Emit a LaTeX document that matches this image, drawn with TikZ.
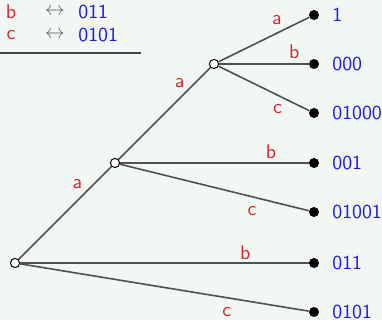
\documentclass[tikz,border=0pt]{standalone}
\usepackage{fontspec}
\definecolor{bgc}{HTML}{F3F7F3}
\definecolor{labred}{HTML}{D8232A}
\definecolor{codeblue}{HTML}{1A1AE0}
\definecolor{edgegray}{HTML}{505050}
\begin{document}
\begin{tikzpicture}[x=0.5pt,y=-0.5pt,
  font=\sffamily\fontsize{9.9}{11.8}\selectfont,
  edge/.style={draw=edgegray,line width=0.8pt},
  inner/.style={circle,draw=black,fill=white,line width=0.5pt,inner sep=0pt,minimum size=4.6pt},
  leaf/.style={circle,fill=black,inner sep=0pt,minimum size=5pt},
  lab/.style={text=labred,inner sep=0pt},
  arr/.style={text=gray!80!black,inner sep=0pt},
  code/.style={text=codeblue,anchor=west,inner sep=0pt}]
  \fill[bgc] (0,0) rectangle (382,320);
  \useasboundingbox (0,0) rectangle (382,320);

  % legend
  \node[lab] (lb) at (11,12) {b};
  \node[arr] (ab) at (55,12) {$\leftrightarrow$};
  \node[code] (cb) at (78,12) {011};
  \node[lab] (lc) at (11,35) {c};
  \node[arr] (ac) at (55,35) {$\leftrightarrow$};
  \node[code] (cc) at (78,35) {0101};
  \coordinate (ruleL) at (0,53);
  \coordinate (ruleR) at (141,53);
  \draw[draw=edgegray!85!black,line width=1.1pt] (ruleL) -- (ruleR);

  % tree nodes
  \node[inner] (r)  at (15,263) {};
  \node[inner] (n1) at (115,163) {};
  \node[inner] (n2) at (214,64) {};
  \node[leaf] (l1) at (314,15) {};
  \node[leaf] (l2) at (314,64) {};
  \node[leaf] (l3) at (314,113) {};
  \node[leaf] (l4) at (314,163) {};
  \node[leaf] (l5) at (314,212) {};
  \node[leaf] (l6) at (314,263) {};
  \node[leaf] (l7) at (314,312) {};

  % codewords
  \node[code] (t1) at (332,15) {1};
  \node[code] (t2) at (332,64) {000};
  \node[code] (t3) at (332,113) {01000};
  \node[code] (t4) at (332,163) {001};
  \node[code] (t5) at (332,212) {01001};
  \node[code] (t6) at (332,263) {011};
  \node[code] (t7) at (332,312) {0101};

  % edges with symbols
  \draw[edge] (r) -- node[lab,pos=.6,shift={(3,-20)}] {a} (n1);
  \draw[edge] (n1) -- node[lab,pos=.6,shift={(6,-21)}] {a} (n2);
  \draw[edge] (n2) -- node[lab,pos=.6,shift={(4,-15)}] {a} (l1);
  \draw[edge] (n2) -- node[lab,pos=.84,shift={(0,-12)}] {b} (l2);
  \draw[edge] (n2) -- node[lab,pos=.65,shift={(0,14)}] {c} (l3);
  \draw[edge] (n1) -- node[lab,pos=.8,shift={(0,-11)}] {b} (l4);
  \draw[edge] (n1) -- node[lab,pos=.7,shift={(0,14)}] {c} (l5);
  \draw[edge] (r) -- node[lab,pos=.78,shift={(0,-10)}] {b} (l6);
  \draw[edge] (r) -- node[lab,pos=.716,shift={(0,14)}] {c} (l7);
\end{tikzpicture}
\end{document}
